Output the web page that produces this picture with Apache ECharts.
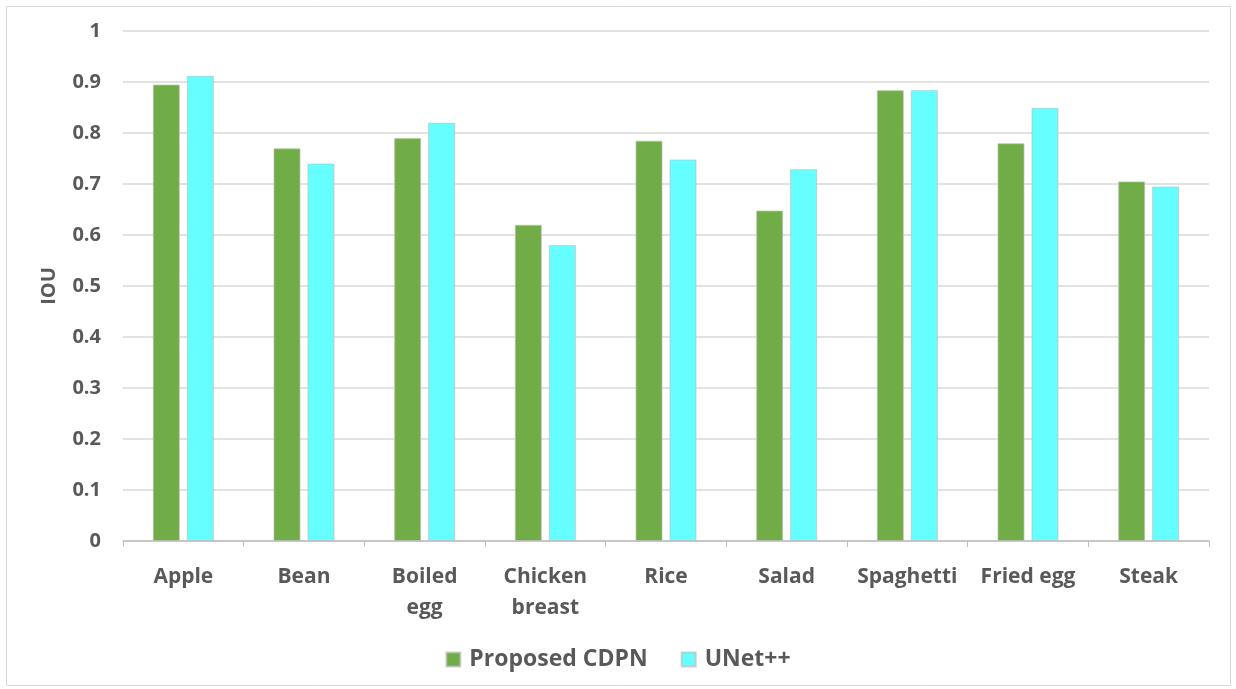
<!DOCTYPE html>
<html>
<head>
<meta charset="utf-8">
<script src="https://cdn.jsdelivr.net/npm/echarts@6/dist/echarts.min.js"></script>
<style>
  html, body { margin: 0; padding: 0; background: #ffffff; }
  #chart { width: 1236px; height: 689px; }
</style>
</head>
<body>
<div id="chart"></div>
<script>
// Food categories on the x axis (line breaks mirror the wrapped labels)
const categories = ['Apple', 'Bean', 'Boiled\negg', 'Chicken\nbreast', 'Rice', 'Salad', 'Spaghetti', 'Fried egg', 'Steak'];

// IOU per food class
const proposedCDPN = [0.895, 0.77, 0.79, 0.62, 0.785, 0.648, 0.884, 0.78, 0.705];
const unetPP       = [0.912, 0.74, 0.82, 0.58, 0.748, 0.729, 0.884, 0.849, 0.695];

const seriesNames = ['Proposed CDPN', 'UNet++'];
const yTicks = { min: 0, max: 1, interval: 0.1 };

const FONT = '"Open Sans", Lato, sans-serif';
const TEXT = '#595959';

const chart = echarts.init(document.getElementById('chart'), null, { renderer: 'canvas' });

chart.setOption({
  animation: false,
  textStyle: { fontFamily: FONT },
  graphic: [{
    type: 'rect',
    shape: { x: 6.5, y: 6.5, width: 1224, height: 679 },
    style: { fill: 'none', stroke: '#d9d9d9', lineWidth: 1 },
    silent: true,
    z: -1
  }],
  grid: { left: 123, right: 27, top: 31, bottom: 148, containLabel: false },
  legend: {
    top: 643,
    left: 'center',
    itemWidth: 14,
    itemHeight: 14,
    itemGap: 33,
    icon: 'rect',
    textStyle: { fontFamily: FONT, fontSize: 23, fontWeight: 'bold', color: TEXT, padding: [0, 0, 0, 4] },
    data: seriesNames
  },
  xAxis: {
    type: 'category',
    data: categories,
    axisLine: { lineStyle: { color: '#bfbfbf', width: 1.5 } },
    axisTick: { show: true, length: 6, lineStyle: { color: '#bfbfbf' } },
    axisLabel: {
      fontFamily: FONT, fontSize: 21, fontWeight: 'bold', color: TEXT,
      margin: 21, lineHeight: 31, interval: 0
    }
  },
  yAxis: {
    type: 'value',
    min: yTicks.min,
    max: yTicks.max,
    interval: yTicks.interval,
    name: 'IOU',
    nameLocation: 'middle',
    nameGap: 64,
    nameRotate: 90,
    nameTextStyle: { fontFamily: FONT, fontSize: 20, fontWeight: 'bold', color: TEXT },
    axisLine: { show: false },
    axisTick: { show: false },
    axisLabel: {
      fontFamily: FONT, fontSize: 20, fontWeight: 'bold', color: TEXT, margin: 22,
      formatter: v => String(Math.round(v * 10) / 10)
    },
    splitLine: { lineStyle: { color: '#d9d9d9', width: 1.5 } }
  },
  series: [
    {
      name: seriesNames[0],
      type: 'bar',
      data: proposedCDPN,
      barWidth: 27,
      barGap: '26%',
      itemStyle: { color: '#70ad47', borderColor: 'rgba(190,190,190,0.7)', borderWidth: 1 }
    },
    {
      name: seriesNames[1],
      type: 'bar',
      data: unetPP,
      barWidth: 27,
      barGap: '26%',
      itemStyle: { color: '#66ffff', borderColor: 'rgba(190,190,190,0.7)', borderWidth: 1 }
    }
  ]
});
</script>
</body>
</html>
